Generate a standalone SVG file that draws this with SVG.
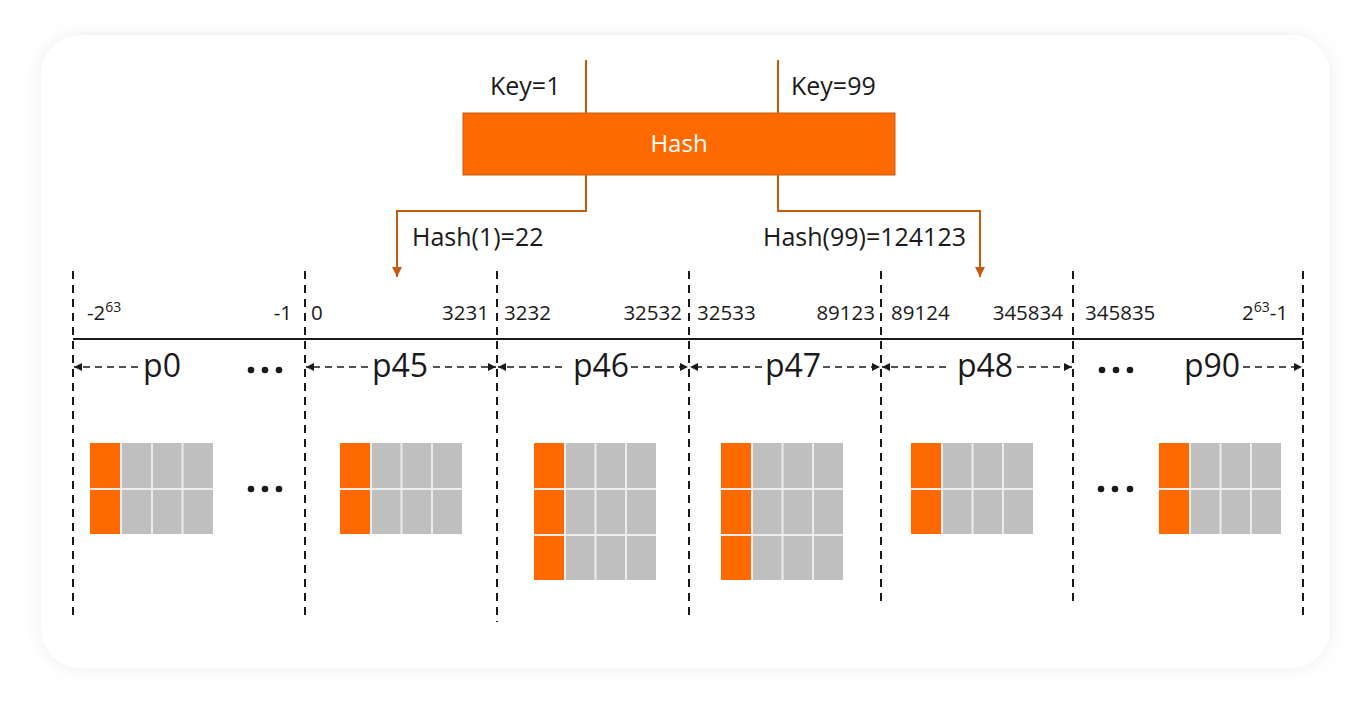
<svg xmlns="http://www.w3.org/2000/svg" width="1369" height="707" viewBox="0 0 1369 707">
<defs>
<filter id="sh" x="-5%" y="-5%" width="110%" height="110%">
<feDropShadow dx="0" dy="0" stdDeviation="9" flood-color="#000" flood-opacity="0.07"/>
</filter>
<marker id="ao" markerUnits="userSpaceOnUse" markerWidth="12" markerHeight="12" refX="10" refY="5" orient="auto">
<path d="M0,0 L10,5 L0,10 Z" fill="#C55A11"/>
</marker>
<marker id="ab" markerUnits="userSpaceOnUse" markerWidth="10" markerHeight="10" refX="8" refY="4" orient="auto">
<path d="M0,0 L8,4 L0,8 Z" fill="#1a1a1a"/>
</marker>
</defs>
<style>
.t{font-family:"Open Sans","Noto Sans","Liberation Sans",sans-serif;fill:#1a1a1a}
.k{font-size:25px}
.r{font-size:20.5px}
.p{font-size:32px;text-anchor:middle}
.sup{font-size:14px}
.oc{fill:none;stroke:#C55A11;stroke-width:2}
.vd{stroke:#1a1a1a;stroke-width:2;stroke-dasharray:8 6}
.hd{stroke:#1a1a1a;stroke-width:1.6;stroke-dasharray:7 5}
.or{fill:#FF6A00}
.gr{fill:#BFBFBF}
.gl{stroke:#ECECEC;stroke-width:2}
.dot{fill:#1a1a1a}
</style>
<rect x="41" y="35" width="1289" height="633" rx="40" fill="#fff" filter="url(#sh)"/>

<g id="hash">
<rect x="463" y="113" width="432" height="62" fill="#FF6A00" stroke="#C55A11" stroke-width="1"/>
<text x="679" y="151.5" text-anchor="middle" font-family="Open Sans, Noto Sans, sans-serif" font-size="24" fill="#fff">Hash</text>
</g>

<g id="connectors">
<line class="oc" x1="586" y1="60" x2="586" y2="113"/>
<line class="oc" x1="778" y1="60" x2="778" y2="113"/>
<polyline class="oc" points="586,175 586,211 397,211 397,277" marker-end="url(#ao)"/>
<polyline class="oc" points="778,175 778,211 980,211 980,277" marker-end="url(#ao)"/>
</g>

<g id="labels">
<text class="t k" x="490" y="95">Key=1</text>
<text class="t k" x="791" y="95">Key=99</text>
<text class="t k" x="412" y="246">Hash(1)=22</text>
<text class="t k" x="763" y="246">Hash(99)=124123</text>
</g>

<g id="axis">
<line x1="73" y1="339" x2="1303" y2="339" stroke="#1a1a1a" stroke-width="2"/>
<line class="vd" x1="73" y1="271" x2="73" y2="615"/>
<line class="vd" x1="305" y1="271" x2="305" y2="615"/>
<line class="vd" x1="497" y1="271" x2="497" y2="622"/>
<line class="vd" x1="689" y1="271" x2="689" y2="615"/>
<line class="vd" x1="881" y1="271" x2="881" y2="601"/>
<line class="vd" x1="1073" y1="271" x2="1073" y2="601"/>
<line class="vd" x1="1303" y1="271" x2="1303" y2="615"/>
</g>

<g id="ranges">
<text class="t r" x="87" y="320">-2<tspan class="sup" dy="-8">63</tspan></text>
<text class="t r" x="292" y="320" text-anchor="end">-1</text>
<text class="t r" x="311" y="320">0</text>
<text class="t r" x="489" y="320" text-anchor="end">3231</text>
<text class="t r" x="504" y="320">3232</text>
<text class="t r" x="682" y="320" text-anchor="end">32532</text>
<text class="t r" x="697" y="320">32533</text>
<text class="t r" x="875" y="320" text-anchor="end">89123</text>
<text class="t r" x="891" y="320">89124</text>
<text class="t r" x="1063" y="320" text-anchor="end">345834</text>
<text class="t r" x="1085" y="320">345835</text>
<text class="t r" x="1288" y="320" text-anchor="end">2<tspan class="sup" dy="-8">63</tspan><tspan dy="8">-1</tspan></text>
</g>

<g id="p0">
<line class="hd" x1="138" y1="367" x2="74" y2="367" marker-end="url(#ab)"/>
<text class="t p" x="162" y="377">p0</text>
<circle class="dot" cx="251" cy="370" r="3.3"/><circle class="dot" cx="265" cy="370" r="3.3"/><circle class="dot" cx="279" cy="370" r="3.3"/>
<rect class="or" x="90" y="443" width="31" height="91"/>
<rect class="gr" x="121" y="443" width="92" height="91"/>
<line class="gl" x1="90" y1="489" x2="213" y2="489"/>
<line class="gl" x1="121" y1="443" x2="121" y2="534"/>
<line class="gl" x1="152" y1="443" x2="152" y2="534"/>
<line class="gl" x1="182.5" y1="443" x2="182.5" y2="534"/>
<circle class="dot" cx="251" cy="489" r="3.3"/><circle class="dot" cx="265" cy="489" r="3.3"/><circle class="dot" cx="279" cy="489" r="3.3"/>
</g>

<g id="p45">
<line class="hd" x1="368" y1="367" x2="306" y2="367" marker-end="url(#ab)"/>
<text class="t p" x="400" y="377">p45</text>
<line class="hd" x1="433" y1="367" x2="496" y2="367" marker-end="url(#ab)"/>
<rect class="or" x="340" y="443" width="31" height="91"/>
<rect class="gr" x="371" y="443" width="91" height="91"/>
<line class="gl" x1="340" y1="489" x2="462" y2="489"/>
<line class="gl" x1="371" y1="443" x2="371" y2="534"/>
<line class="gl" x1="401.5" y1="443" x2="401.5" y2="534"/>
<line class="gl" x1="432" y1="443" x2="432" y2="534"/>
</g>

<g id="p46">
<line class="hd" x1="562" y1="367" x2="498" y2="367" marker-end="url(#ab)"/>
<text class="t p" x="601" y="377">p46</text>
<line class="hd" x1="631" y1="367" x2="688" y2="367" marker-end="url(#ab)"/>
<rect class="or" x="534" y="443" width="31" height="137"/>
<rect class="gr" x="565" y="443" width="91" height="137"/>
<line class="gl" x1="534" y1="489" x2="656" y2="489"/>
<line class="gl" x1="534" y1="535" x2="656" y2="535"/>
<line class="gl" x1="565" y1="443" x2="565" y2="580"/>
<line class="gl" x1="595.5" y1="443" x2="595.5" y2="580"/>
<line class="gl" x1="626" y1="443" x2="626" y2="580"/>
</g>

<g id="p47">
<line class="hd" x1="762" y1="367" x2="690" y2="367" marker-end="url(#ab)"/>
<text class="t p" x="793" y="377">p47</text>
<line class="hd" x1="823" y1="367" x2="880" y2="367" marker-end="url(#ab)"/>
<rect class="or" x="721" y="443" width="31" height="137"/>
<rect class="gr" x="752" y="443" width="91" height="137"/>
<line class="gl" x1="721" y1="489" x2="843" y2="489"/>
<line class="gl" x1="721" y1="535" x2="843" y2="535"/>
<line class="gl" x1="752" y1="443" x2="752" y2="580"/>
<line class="gl" x1="782.5" y1="443" x2="782.5" y2="580"/>
<line class="gl" x1="813" y1="443" x2="813" y2="580"/>
</g>

<g id="p48">
<line class="hd" x1="946" y1="367" x2="882" y2="367" marker-end="url(#ab)"/>
<text class="t p" x="985" y="377">p48</text>
<line class="hd" x1="1017" y1="367" x2="1072" y2="367" marker-end="url(#ab)"/>
<rect class="or" x="911" y="443" width="31" height="91"/>
<rect class="gr" x="942" y="443" width="91" height="91"/>
<line class="gl" x1="911" y1="489" x2="1033" y2="489"/>
<line class="gl" x1="942" y1="443" x2="942" y2="534"/>
<line class="gl" x1="972.5" y1="443" x2="972.5" y2="534"/>
<line class="gl" x1="1003" y1="443" x2="1003" y2="534"/>
</g>

<g id="p90">
<circle class="dot" cx="1102" cy="370" r="3.3"/><circle class="dot" cx="1116" cy="370" r="3.3"/><circle class="dot" cx="1130" cy="370" r="3.3"/>
<text class="t p" x="1212" y="377">p90</text>
<line class="hd" x1="1243" y1="367" x2="1302" y2="367" marker-end="url(#ab)"/>
<circle class="dot" cx="1101" cy="489" r="3.3"/><circle class="dot" cx="1115" cy="489" r="3.3"/><circle class="dot" cx="1130" cy="489" r="3.3"/>
<rect class="or" x="1159" y="443" width="31" height="91"/>
<rect class="gr" x="1190" y="443" width="91" height="91"/>
<line class="gl" x1="1159" y1="489" x2="1281" y2="489"/>
<line class="gl" x1="1190" y1="443" x2="1190" y2="534"/>
<line class="gl" x1="1220.5" y1="443" x2="1220.5" y2="534"/>
<line class="gl" x1="1251" y1="443" x2="1251" y2="534"/>
</g>
</svg>
